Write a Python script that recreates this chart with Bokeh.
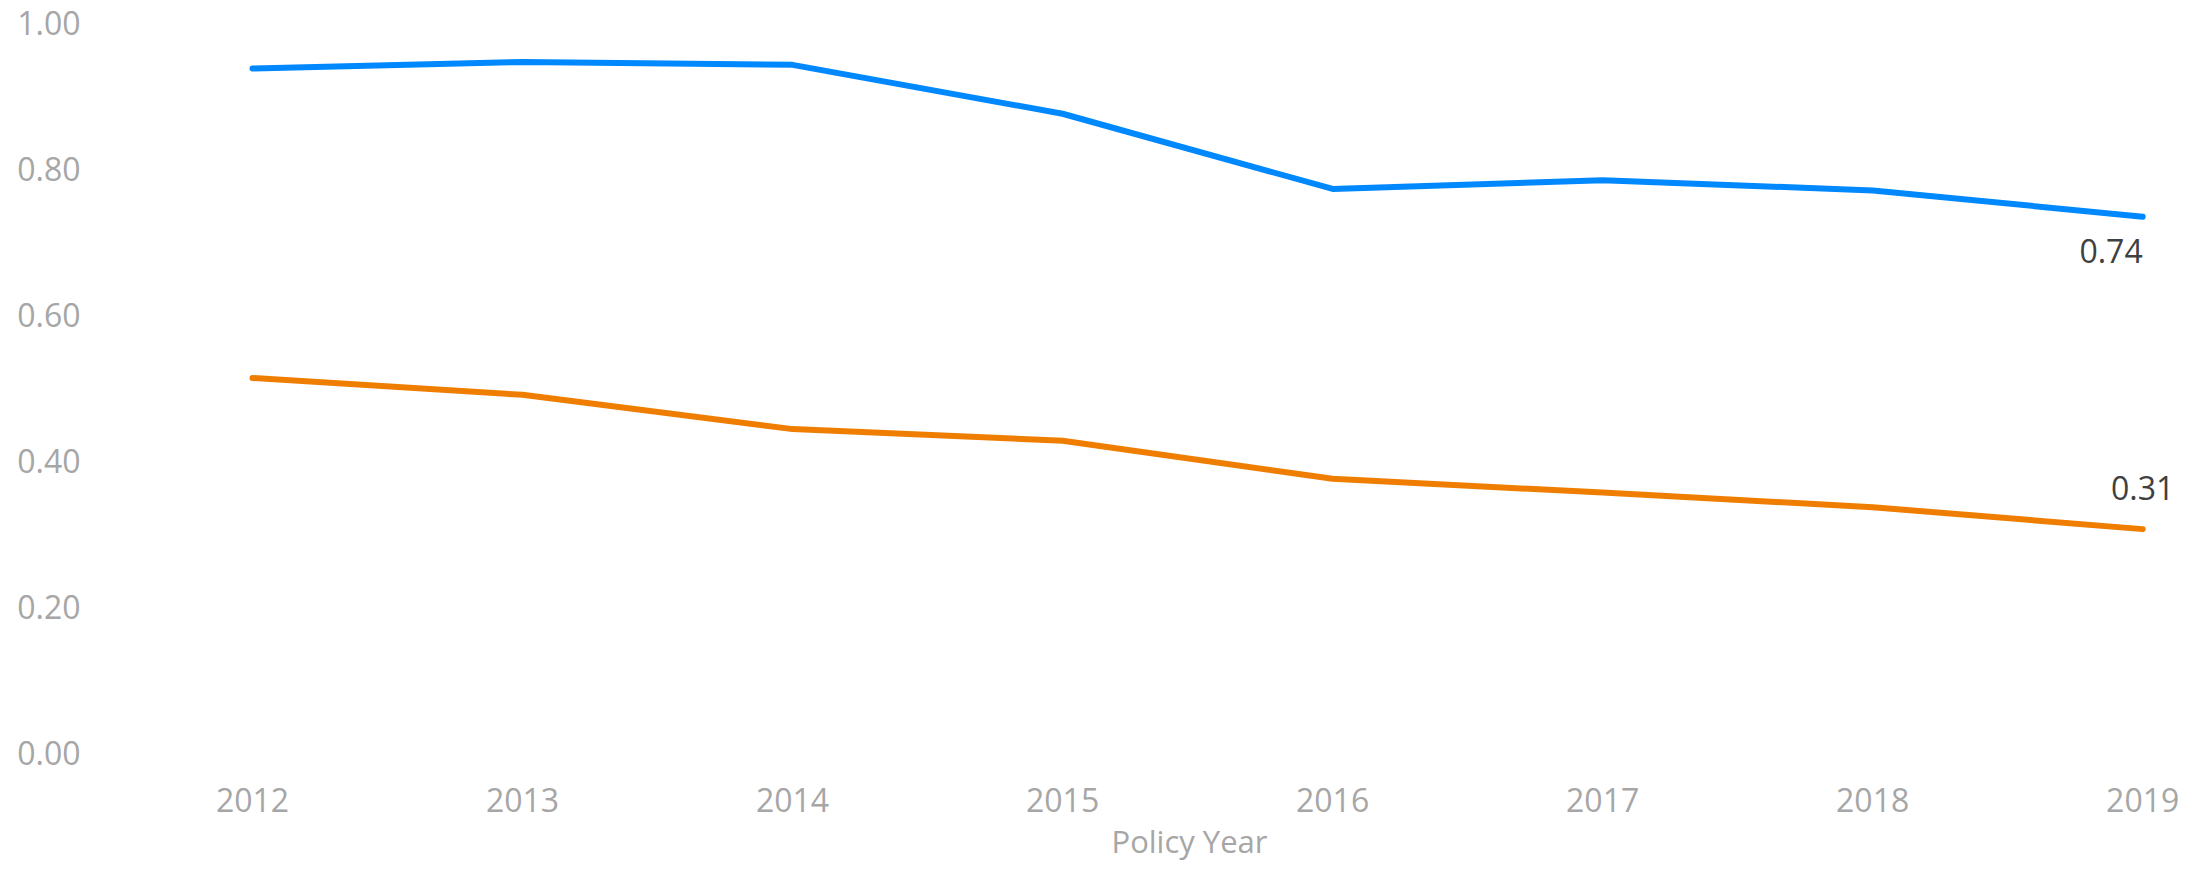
from bokeh.plotting import figure
from bokeh.models import Range1d, ColumnDataSource, FixedTicker
from bokeh.core.properties import value
from bokeh.embed import file_html
from bokeh.resources import INLINE

years = [2012, 2013, 2014, 2015, 2016, 2017, 2018, 2019]
series_blue = [0.937, 0.946, 0.942, 0.875, 0.772, 0.784, 0.770, 0.734]
series_orange = [0.513, 0.490, 0.443, 0.427, 0.375, 0.356, 0.336, 0.306]
end_labels = ["0.74", "0.31"]
y_ticks = [0.0, 0.2, 0.4, 0.6, 0.8, 1.0]
x_axis_title = "Policy Year"

BLUE = "#0088FF"
ORANGE = "#EF7E00"
TICK_COLOR = "#A6A6A6"
LABEL_COLOR = "#404040"
FONT = "Open Sans"

p = figure(width=2184, height=864, output_backend="svg", toolbar_location=None,
           x_range=Range1d(2011.8, 2019.14), y_range=Range1d(0, 1.0),
           min_border_left=198, min_border_right=4, min_border_top=22, min_border_bottom=109)
p.outline_line_color = None
p.xgrid.visible = False
p.ygrid.visible = False
p.background_fill_color = "white"
p.border_fill_color = "white"

p.line(years, series_blue, line_color=BLUE, line_width=6, line_cap="round", line_join="round")
p.line(years, series_orange, line_color=ORANGE, line_width=6, line_cap="round", line_join="round")

blue_src = ColumnDataSource(dict(x=[years[-1]], y=[series_blue[-1]], t=[end_labels[0]]))
orange_src = ColumnDataSource(dict(x=[years[-1]], y=[series_orange[-1]], t=[end_labels[1]]))
p.text(x="x", y="y", text="t", source=blue_src, text_align="right", text_baseline="middle",
       y_offset=34, text_font=value(FONT), text_font_size="32px", text_color=LABEL_COLOR)
p.text(x="x", y="y", text="t", source=orange_src, text_align="center", text_baseline="middle",
       y_offset=-41, text_font=value(FONT), text_font_size="32px", text_color=LABEL_COLOR)

for ax in (p.xaxis[0], p.yaxis[0]):
    ax.axis_line_color = None
    ax.major_tick_line_color = None
    ax.minor_tick_line_color = None
    ax.major_label_text_color = TICK_COLOR
    ax.major_label_text_font = FONT
    ax.major_label_text_font_size = "32px"

p.xaxis.ticker = FixedTicker(ticks=years)
p.xaxis.major_label_standoff = 29
p.xaxis.axis_label = x_axis_title
p.xaxis.axis_label_text_font = FONT
p.xaxis.axis_label_text_font_size = "31px"
p.xaxis.axis_label_text_font_style = "normal"
p.xaxis.axis_label_text_color = TICK_COLOR
p.xaxis.axis_label_standoff = 5

p.yaxis.ticker = FixedTicker(ticks=y_ticks)
p.yaxis.major_label_overrides = {t: f"{t:.2f}" for t in y_ticks}
p.yaxis.major_label_standoff = 112

open("out.html", "w").write(file_html(p, INLINE))
